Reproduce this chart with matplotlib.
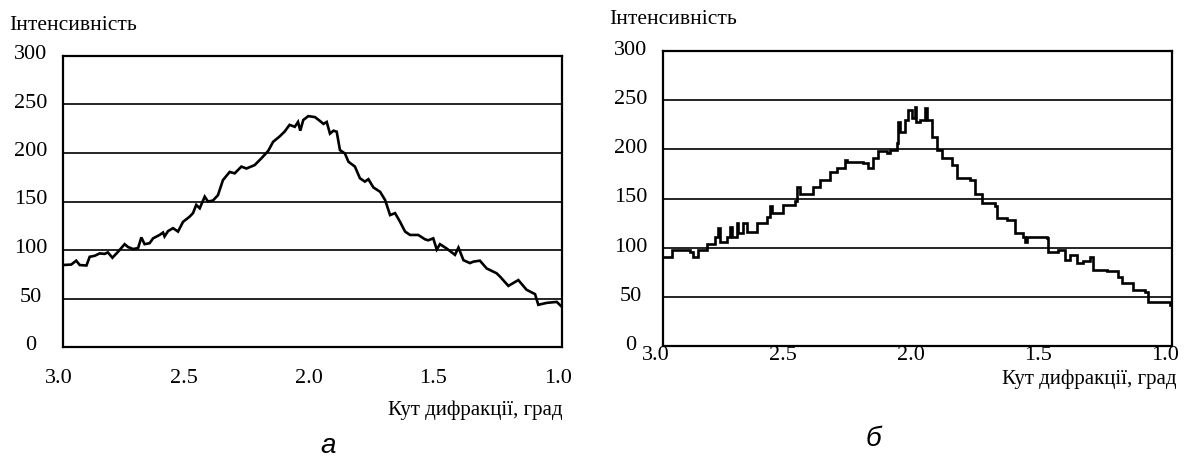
import matplotlib
matplotlib.use("Agg")
import matplotlib.pyplot as plt
from matplotlib.transforms import ScaledTranslation

# ---------------- data ----------------
angle_a = [3.000, 2.967, 2.947, 2.933, 2.906, 2.893, 2.873, 2.853, 2.833, 2.820,
           2.802, 2.780, 2.753, 2.739, 2.719, 2.699, 2.686, 2.673, 2.653, 2.639,
           2.613, 2.599, 2.593, 2.579, 2.559, 2.539, 2.519, 2.492, 2.479, 2.466,
           2.452, 2.432, 2.419, 2.399, 2.379, 2.359, 2.332, 2.312, 2.285, 2.265,
           2.232, 2.205, 2.178, 2.158, 2.132, 2.112, 2.092, 2.071, 2.058, 2.049,
           2.037, 2.017, 1.990, 1.970, 1.956, 1.943, 1.930, 1.916, 1.903, 1.890,
           1.870, 1.856, 1.830, 1.810, 1.790, 1.776, 1.756, 1.729, 1.709, 1.689,
           1.669, 1.649, 1.629, 1.609, 1.576, 1.549, 1.536, 1.516, 1.502, 1.489,
           1.462, 1.429, 1.415, 1.395, 1.369, 1.355, 1.329, 1.302, 1.262, 1.248,
           1.215, 1.175, 1.142, 1.108, 1.095, 1.061, 1.021, 1.001]
intens_a = [84.5, 85, 89, 84.5, 84, 93, 94, 96.5, 96, 97.5,
            92, 98, 106, 103, 101, 102, 113, 106, 107, 112,
            115.5, 118, 114, 119.5, 122.5, 119, 129, 134.5, 138, 146.5,
            143, 155, 150, 151, 156.5, 172, 180.5, 179, 186, 184,
            187.5, 194.5, 202, 211.5, 217, 222, 229, 227, 232, 223,
            234, 238, 237, 233, 230, 232, 220, 223, 222, 203,
            199.5, 191, 186, 174, 170.5, 173, 164.5, 160, 151.5, 136,
            138, 129, 119, 115.5, 115.5, 111, 110, 112, 100.5, 106,
            101.5, 95, 102.5, 89.5, 86.5, 88, 89, 81, 76, 72.5,
            63, 69, 59, 54.5, 43.5, 45.5, 46.5, 41.5]

angle_b = [3.000, 2.966, 2.933, 2.894, 2.881, 2.861, 2.828, 2.796, 2.783, 2.776,
           2.750, 2.737, 2.730, 2.710, 2.704, 2.684, 2.671, 2.632, 2.593, 2.580,
           2.573, 2.527, 2.481, 2.475, 2.462, 2.409, 2.383, 2.344, 2.317, 2.285,
           2.278, 2.213, 2.193, 2.174, 2.154, 2.121, 2.108, 2.082, 2.075, 2.069,
           2.049, 2.036, 2.023, 2.010, 2.004, 1.990, 1.971, 1.964, 1.944, 1.925,
           1.905, 1.866, 1.846, 1.794, 1.774, 1.748, 1.695, 1.689, 1.650, 1.617,
           1.584, 1.578, 1.571, 1.492, 1.486, 1.447, 1.420, 1.401, 1.374, 1.349,
           1.322, 1.310, 1.257, 1.211, 1.198, 1.152, 1.106, 1.093, 1.040, 1.008]
intens_b = [91, 98, 98, 96, 91, 98, 104, 111, 120, 106,
            111, 121, 111, 125, 115, 125, 116, 125, 131, 142,
            135, 143, 147, 162, 155, 162, 169, 177, 181, 189,
            187, 186, 181, 191, 198, 196, 199, 206, 228, 218,
            230, 240, 232, 243, 228, 230, 242, 230, 213, 199,
            191, 184, 171, 169, 155, 145, 142, 130, 128, 115,
            111, 106, 111, 110, 96, 98, 87, 93, 84, 86,
            91, 77, 76, 70, 64, 57, 55, 45, 45, 42]

y_ticks = [0, 50, 100, 150, 200, 250, 300]
x_ticks = [3.0, 2.5, 2.0, 1.5, 1.0]
x_tick_labels = ["3.0", "2.5", "2.0", "1.5", "1.0"]
y_label = "Інтенсивність"
x_label = "Кут дифракції, град"
panel_labels = ["а", "б"]

# ---------------- figure ----------------
plt.rcParams['font.family'] = ['Liberation Serif', 'DejaVu Serif']
W, H = 1190, 463
fig = plt.figure(figsize=(W / 100, H / 100), dpi=100)


def px_box(x0, y0, x1, y1):
    return [x0 / W, (H - y1) / H, (x1 - x0) / W, (y1 - y0) / H]


def make_panel(box, xs, ys, style, ypad, yshift, xpad, xshift,
               ylab_xy, xlab_xy, pan_xy, pan_text):
    ax = fig.add_axes(px_box(*box))
    ax.plot(xs, ys, color='black', lw=1.9, drawstyle=style, zorder=3,
            solid_joinstyle='miter')
    ax.set_xlim(3.0, 1.0)
    ax.set_ylim(0, 300)
    ax.set_yticks(y_ticks)
    ax.set_xticks(x_ticks)
    ax.set_xticklabels(x_tick_labels)
    ax.tick_params(axis='y', length=0, pad=ypad, labelsize=16)
    ax.tick_params(axis='x', length=0, pad=xpad, labelsize=16)
    for t in ax.get_yticklabels():
        t.set_horizontalalignment('center')
        t.set_transform(t.get_transform() +
                        ScaledTranslation(0, yshift / 100, fig.dpi_scale_trans))
    for t in ax.get_xticklabels():
        t.set_transform(t.get_transform() +
                        ScaledTranslation(xshift / 100, 0, fig.dpi_scale_trans))
    for s in ax.spines.values():
        s.set_linewidth(1.6)
        s.set_color('black')
    for v in y_ticks[1:-1]:
        ax.axhline(v, color='black', lw=1.2, zorder=2)

    fig.text(ylab_xy[0] / W, 1 - ylab_xy[1] / H, y_label, fontsize=15.5,
             ha='left', va='center')
    fig.text(xlab_xy[0] / W, 1 - xlab_xy[1] / H, x_label, fontsize=15,
             ha='right', va='center')
    fig.text(pan_xy[0] / W, 1 - pan_xy[1] / H, pan_text, fontsize=20,
             ha='center', va='center', style='italic',
             family=['Liberation Sans', 'DejaVu Sans'])


make_panel((63, 56, 562, 347), angle_a, intens_a, 'default',
           23, 4, 16, -4, (9, 25), (562, 410), (328, 446), panel_labels[0])
make_panel((663, 51, 1172, 346), angle_b, intens_b, 'steps-post',
           23, 3, 0, -7, (609, 20), (1176, 379), (873, 439), panel_labels[1])

fig.savefig("out.png", dpi=100, facecolor='white')
